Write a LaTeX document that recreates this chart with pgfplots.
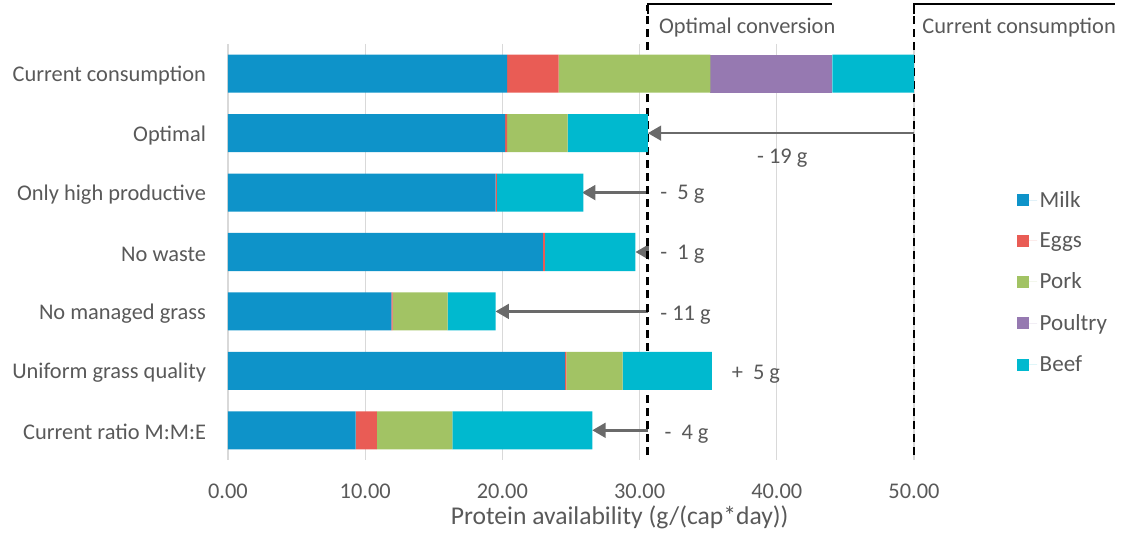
\documentclass[border=0pt]{standalone}
\usepackage{pgfplots}
\pgfplotsset{compat=1.18}
\usepackage{fontspec}
\setmainfont{Carlito}
\usetikzlibrary{arrows.meta}
\definecolor{milk}{HTML}{0E93C9}
\definecolor{eggs}{HTML}{E95C55}
\definecolor{pork}{HTML}{A2C364}
\definecolor{poultry}{HTML}{9679B1}
\definecolor{beef}{HTML}{00B9CF}
\definecolor{txt}{HTML}{595959}
\definecolor{arrc}{HTML}{6A6A6A}
\definecolor{gridc}{HTML}{D9D9D9}
\tikzset{arrw/.style={draw=arrc, line width=2pt, -{Triangle[length=10pt,width=11pt]}},
 dashl/.style={black, line width=2pt, dash pattern=on 6pt off 3.8pt},
 lab/.style={text=txt, inner sep=0pt}}
\pgfplotsset{sqlegend/.style={legend image code/.code={\fill[##1] (0pt,-4.5pt) rectangle (9pt,4.5pt); \path (0pt,0pt) -- (15pt,0pt);}}}
\begin{document}
\begin{tikzpicture}[font=\fontsize{16.8}{20}\selectfont]
\useasboundingbox (-171pt,-55.5pt) rectangle (675pt,345pt);
\begin{axis}[
 at={(0pt,0pt)}, anchor=south west,
 scale only axis, width=514.5pt, height=312pt,
 xbar stacked, bar width=0.64,
 xmin=0, xmax=50, ymin=-0.5, ymax=6.5, y dir=reverse,
 axis line style={draw=none},
 xtick={0,10,...,50}, ytick={0,...,6},
 yticklabels={Current consumption, Optimal, Only high productive, No waste, No managed grass, Uniform grass quality, Current ratio M:M:E},
 xmajorgrids, major grid style={gridc, line width=0.9pt},
 tick style={draw=none},
 /pgf/number format/fixed, /pgf/number format/fixed zerofill, /pgf/number format/precision=2, /pgf/number format/assume math mode=true,
 ticklabel style={text=txt},
 yticklabel style={xshift=-13pt, yshift=-1.5pt},
 xticklabel style={yshift=-14.75pt},
 xlabel={Protein availability (g/(cap*day))},
 xlabel style={text=txt, font=\fontsize{19.2}{22}\selectfont, at={(axis description cs:0.571,-0.137)}, anchor=center},
 clip=false,
 legend style={at={(1.144,0.66)}, anchor=north west, draw=none, fill=none, text=txt, row sep=13.6pt, font=\fontsize{17.3}{20}\selectfont},
 legend cell align=left,
 sqlegend,
]
\addplot[fill=milk, draw=none] coordinates {(20.35,0) (20.2,1) (19.5,2) (22.95,3) (11.9,4) (24.55,5) (9.3,6)};
\addplot[fill=eggs, draw=none] coordinates {(3.75,0) (0.15,1) (0.1,2) (0.15,3) (0.1,4) (0.12,5) (1.55,6)};
\addplot[fill=pork, draw=none] coordinates {(11.05,0) (4.4,1) (0,2) (0,3) (4.0,4) (4.1,5) (5.5,6)};
\addplot[fill=poultry, draw=none] coordinates {(8.9,0) (0,1) (0,2) (0,3) (0,4) (0,5) (0,6)};
\addplot[fill=beef, draw=none] coordinates {(5.95,0) (5.85,1) (6.3,2) (6.6,3) (3.5,4) (6.5,5) (10.2,6)};
\legend{Milk, Eggs, Pork, Poultry, Beef}
\draw[dashl] (axis cs:30.6,6.42) -- (axis cs:30.6,-1.16);
\draw[dashl] (axis cs:50,6.42) -- (axis cs:50,-1.16);
\draw[black, line width=1.5pt] (axis cs:30.6,-1.0) -- (axis cs:30.6,-1.175) -- (axis cs:44.0,-1.175);
\draw[black, line width=1.5pt] (axis cs:50,-1.0) -- (axis cs:50,-1.175) -- (axis cs:64.65,-1.175);
\node[lab, anchor=west] at (axis cs:31.4,-0.77) {Optimal conversion};
\node[lab, anchor=west] at (axis cs:50.6,-0.77) {Current consumption};
\draw[arrw] (axis cs:50,1) -- (axis cs:30.6,1);
\draw[arrw] (axis cs:30.6,2) -- (axis cs:25.8,2);
\draw[arrw] (axis cs:30.6,3) -- (axis cs:29.7,3);
\draw[arrw] (axis cs:30.6,4) -- (axis cs:19.5,4);
\draw[arrw] (axis cs:30.6,5) -- (axis cs:35.27,5);
\draw[arrw] (axis cs:30.6,6) -- (axis cs:26.55,6);
\node[lab] at (axis cs:40.4,1.42) {- 19 g};
\node[lab, anchor=west] at (axis cs:31.5,2.03) {-\ \ 5 g};
\node[lab, anchor=west] at (axis cs:31.5,3.04) {-\ \ 1 g};
\node[lab, anchor=west] at (axis cs:31.5,4.06) {- 11 g};
\node[lab, anchor=west] at (axis cs:36.7,5.06) {+\ \ 5 g};
\node[lab, anchor=west] at (axis cs:31.8,6.06) {-\ \ 4 g};
\end{axis}
\end{tikzpicture}
\end{document}
